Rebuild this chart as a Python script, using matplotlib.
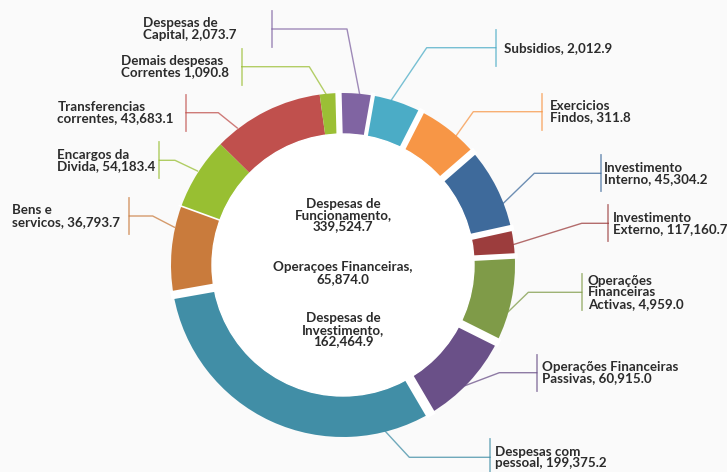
import numpy as np
import matplotlib
matplotlib.use("Agg")
import matplotlib.pyplot as plt

# Segment sizes (degrees of the ring, as drawn in the reference)
segments = ["Despesas de Capital", "Subsidios", "Exercicios Findos", "Investimento Interno",
            "Investimento Externo", "Operacoes Financeiras Activas", "Operacoes Financeiras Passivas",
            "Despesas com pessoal", "Bens e servicos", "Encargos da Divida",
            "Transferencias correntes", "Demais despesas Correntes"]
sizes = [11.5, 17.0, 22.0, 28.6, 9.4, 29.6, 33.0, 110.4, 30.0, 24.6, 37.6, 6.3]
colors = ["#8064a2", "#4bacc6", "#f79646", "#3e6a9b", "#9c3d3d", "#7f9b48",
          "#6a5088", "#418ea6", "#c97b3c", "#98bf32", "#c0504d", "#9bbf35"]

# Label texts and values
label_names = ["Despesas de\nCapital, ", "Subsidios, ", "Exercicios\nFindos, ",
               "Investimento\nInterno, ", "Investimento\nExterno, ",
               "Operações\nFinanceiras\nActivas, ", "Operações Financeiras\nPassivas, ",
               "Despesas com\npessoal, ", "Bens e\nservicos, ", "Encargos da\nDivida, ",
               "Transferencias\ncorrentes, ", "Demais despesas\nCorrentes "]
label_values = [2073.7, 2012.9, 311.8, 45304.2, 117160.7, 4959.0, 60915.0,
                199375.2, 36793.7, 54183.4, 43683.1, 1090.8]

center_names = ["Despesas de\nFuncionamento,\n", "Operaçoes Financeiras,\n", "Despesas de\nInvestimento,\n"]
center_values = [339524.7, 65874.0, 162464.9]

# layout (pixel coords, y from top)
W, H = 727, 472
cx, cy, r_out, ring_w = 343, 265, 172, 41
start_angle = 91.5
gap_widths = [3.0, 4.5, 5.0, 4.5, 4.0, 6.0, 7.0, 6.0, 1.2, 0, 0, 4.5]  # after each segment

# (text_x, bar_x, line_y, elbow_x, anchor_x, anchor_y)
label_layout = [
    (142.7, 272.0, 29.0, 347.0, 360.0, 96.0),
    (504.0, 495.7, 47.7, 426.7, 390.7, 101.0),
    (550.0, 542.0, 111.7, 473.3, 456.0, 136.0),
    (604.3, 600.7, 173.3, 534.3, 503.3, 203.3),
    (612.7, 608.3, 223.3, 581.7, 512.0, 245.0),
    (587.7, 581.7, 292.3, 528.3, 508.3, 311.7),
    (541.7, 536.7, 372.7, 499.3, 465.0, 385.7),
    (495.0, 490.0, 457.3, 409.3, 385.0, 431.0),
    (11.7, 129.3, 216.0, 152.7, 174.5, 227.3),
    (56.7, 159.3, 160.3, 175.0, 197.5, 171.0),
    (57.3, 186.0, 112.7, 218.3, 237.3, 128.0),
    (120.7, 241.7, 66.7, 309.3, 326.0, 94.0),
]
center_y = [215, 273, 330]

plt.rcParams['font.family'] = ['Lato', 'DejaVu Sans']
text_color = "#2b2b2b"
fsize = 9.6
lsp = 0.95

fig = plt.figure(figsize=(W / 100, H / 100), dpi=100, facecolor="#fafafa")
ax = fig.add_axes([0, 0, 1, 1])
ax.set_facecolor("#fafafa")


def Y(y):
    return H - y


ax.pie(sizes, colors=colors, startangle=start_angle, counterclock=False,
       center=(cx, Y(cy)), radius=r_out, frame=True,
       wedgeprops=dict(width=ring_w, linewidth=0))

# white hole
ax.add_patch(plt.Circle((cx, Y(cy)), r_out - ring_w, color="white", zorder=3))

# white gaps between segments
bounds = start_angle - np.cumsum(sizes)
for th, gw in zip(bounds, gap_widths):
    if gw <= 0:
        continue
    t = np.deg2rad(th)
    r0, r1 = r_out - ring_w - 2, r_out + 3
    ax.plot([cx + r0 * np.cos(t), cx + r1 * np.cos(t)],
            [Y(cy) + r0 * np.sin(t), Y(cy) + r1 * np.sin(t)],
            color="white", lw=gw, solid_capstyle="butt", zorder=2)

# labels with connectors
for name, val, col, lay in zip(label_names, label_values, colors, label_layout):
    tx, bx, ly, ex, axp, ayp = lay
    ax.plot([axp, ex, bx], [Y(ayp), Y(ly), Y(ly)], color=col, lw=1.0, alpha=0.75, zorder=1)
    ax.plot([bx, bx], [Y(ly - 18), Y(ly + 18)], color=col, lw=1.3, alpha=0.6, zorder=1)
    ax.text(tx, Y(ly), f"{name}{val:,.1f}", ha="left", va="center", fontsize=fsize,
            fontweight="bold", color=text_color, linespacing=lsp)

for name, val, yy in zip(center_names, center_values, center_y):
    ax.text(cx, Y(yy), f"{name}{val:,.1f}", ha="center", va="center", fontsize=fsize,
            fontweight="bold", color=text_color, linespacing=lsp, zorder=4,
            multialignment="center")

ax.set_xlim(0, W)
ax.set_ylim(0, H)
ax.set_aspect("equal")
ax.axis("off")

fig.savefig("out.png", dpi=100, facecolor=fig.get_facecolor())
